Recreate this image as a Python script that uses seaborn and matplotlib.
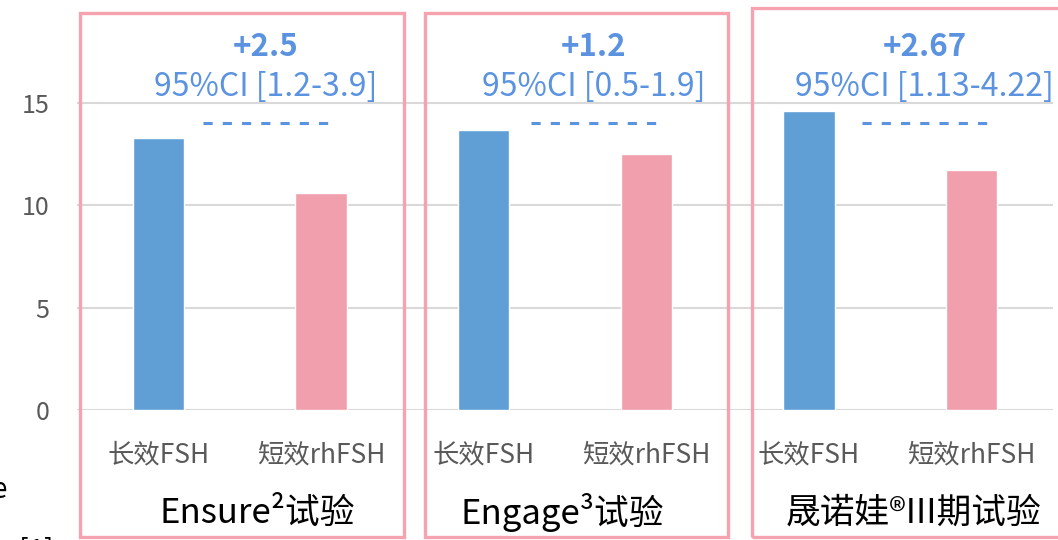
import matplotlib
matplotlib.use("Agg")
import matplotlib.pyplot as plt
import seaborn as sns
import pandas as pd
from matplotlib.patches import Rectangle

# ---- data ----
trials = ["Ensure²试验", "Engage³试验", "晟诺娃®III期试验"]
groups = ["长效FSH", "短效rhFSH"]
long_fsh = [13.3, 13.7, 14.6]
short_fsh = [10.6, 12.5, 11.7]
diff_labels = ["+2.5", "+1.2", "+2.67"]
ci_labels = ["95%CI [1.2-3.9]", "95%CI [0.5-1.9]", "95%CI [1.13-4.22]"]
yticks = [0, 5, 10, 15]

BLUE = "#5F9FD6"
PINK = "#F19FAC"
FRAME = "#F4A3AF"
ANN = "#5B93E0"
GRAY = "#595959"

rows = []
for t, a, b in zip(trials, long_fsh, short_fsh):
    rows.append({"key": t + "|" + groups[0], "group": groups[0], "value": a})
    rows.append({"key": t + "|" + groups[1], "group": groups[1], "value": b})
df = pd.DataFrame(rows)

sns.set_theme(style="white")
plt.rcParams["font.family"] = ["Noto Sans CJK SC", "DejaVu Sans"]

fig = plt.figure(figsize=(10.58, 5.4), dpi=100)
W, H = 1058, 540
ax = fig.add_axes([77 / W, 1 - 410 / H, (1053 - 77) / W, (410 - 41.5) / H])

sns.barplot(data=df, x="key", y="value", hue="group", dodge=False,
            palette={groups[0]: BLUE, groups[1]: PINK}, width=0.314,
            legend=False, ax=ax, saturation=1)

ax.set_ylim(0, 18)
ax.set_xlim(-0.5, 5.5)
ax.set_yticks(yticks)
ax.set_yticklabels([str(v) for v in yticks])
ax.set_xticks(range(len(df)))
ax.set_xticklabels(list(df["group"]))
ax.set_xlabel("")
ax.set_ylabel("")
for s in ax.spines.values():
    s.set_visible(False)
ax.tick_params(axis="both", length=0)
ax.tick_params(axis="y", labelsize=18, labelcolor=GRAY, pad=20)
ax.tick_params(axis="x", labelsize=19, labelcolor=GRAY, pad=22.5)
ax.grid(axis="y", color="#D9D9D9", linewidth=1.5)
ax.set_axisbelow(True)

# annotations (per-panel horizontal shift of the annotation block)
shifts = [0.0, 0.015, 0.05]
for i in range(len(trials)):
    x0 = 2 * i + shifts[i]
    xc = x0 + 0.66
    ax.text(xc, 17.75, diff_labels[i], ha="center", va="center", fontsize=22.5,
            fontweight="bold", color=ANN, clip_on=False)
    ax.text(xc, 15.8, ci_labels[i], ha="center", va="center", fontsize=23,
            color=ANN, clip_on=False)
    ax.plot([x0 + 0.275, x0 + 1.045], [14.0, 14.0], color=ANN, linewidth=2.2,
            dashes=(3.0, 3.3), solid_capstyle="butt", dash_capstyle="butt")

# panel frames (figure pixel coordinates)
frames = [(80, 13, 404, 537), (425, 13, 728, 537), (752, 8, 1075, 537)]
for (l, t, r, b) in frames:
    fig.patches.append(Rectangle((l / W, 1 - b / H), (r - l) / W, (b - t) / H,
                                 transform=fig.transFigure, fill=False,
                                 edgecolor=FRAME, linewidth=2.4, zorder=5))

# panel titles
title_x = [257, 562, 914]
for tx, name in zip(title_x, trials):
    fig.text(tx / W, 1 - 513 / H, name, ha="center", va="center",
             fontsize=25, color="black")

# clipped fragments at left edge
fig.text(7 / W, 1 - 490 / H, "e", ha="right", va="center", fontsize=20, color="black")
fig.text(-4 / W, 1 - 552 / H, "n [1]", ha="left", va="center", fontsize=20, color="black")

fig.savefig("out.png", dpi=100)
